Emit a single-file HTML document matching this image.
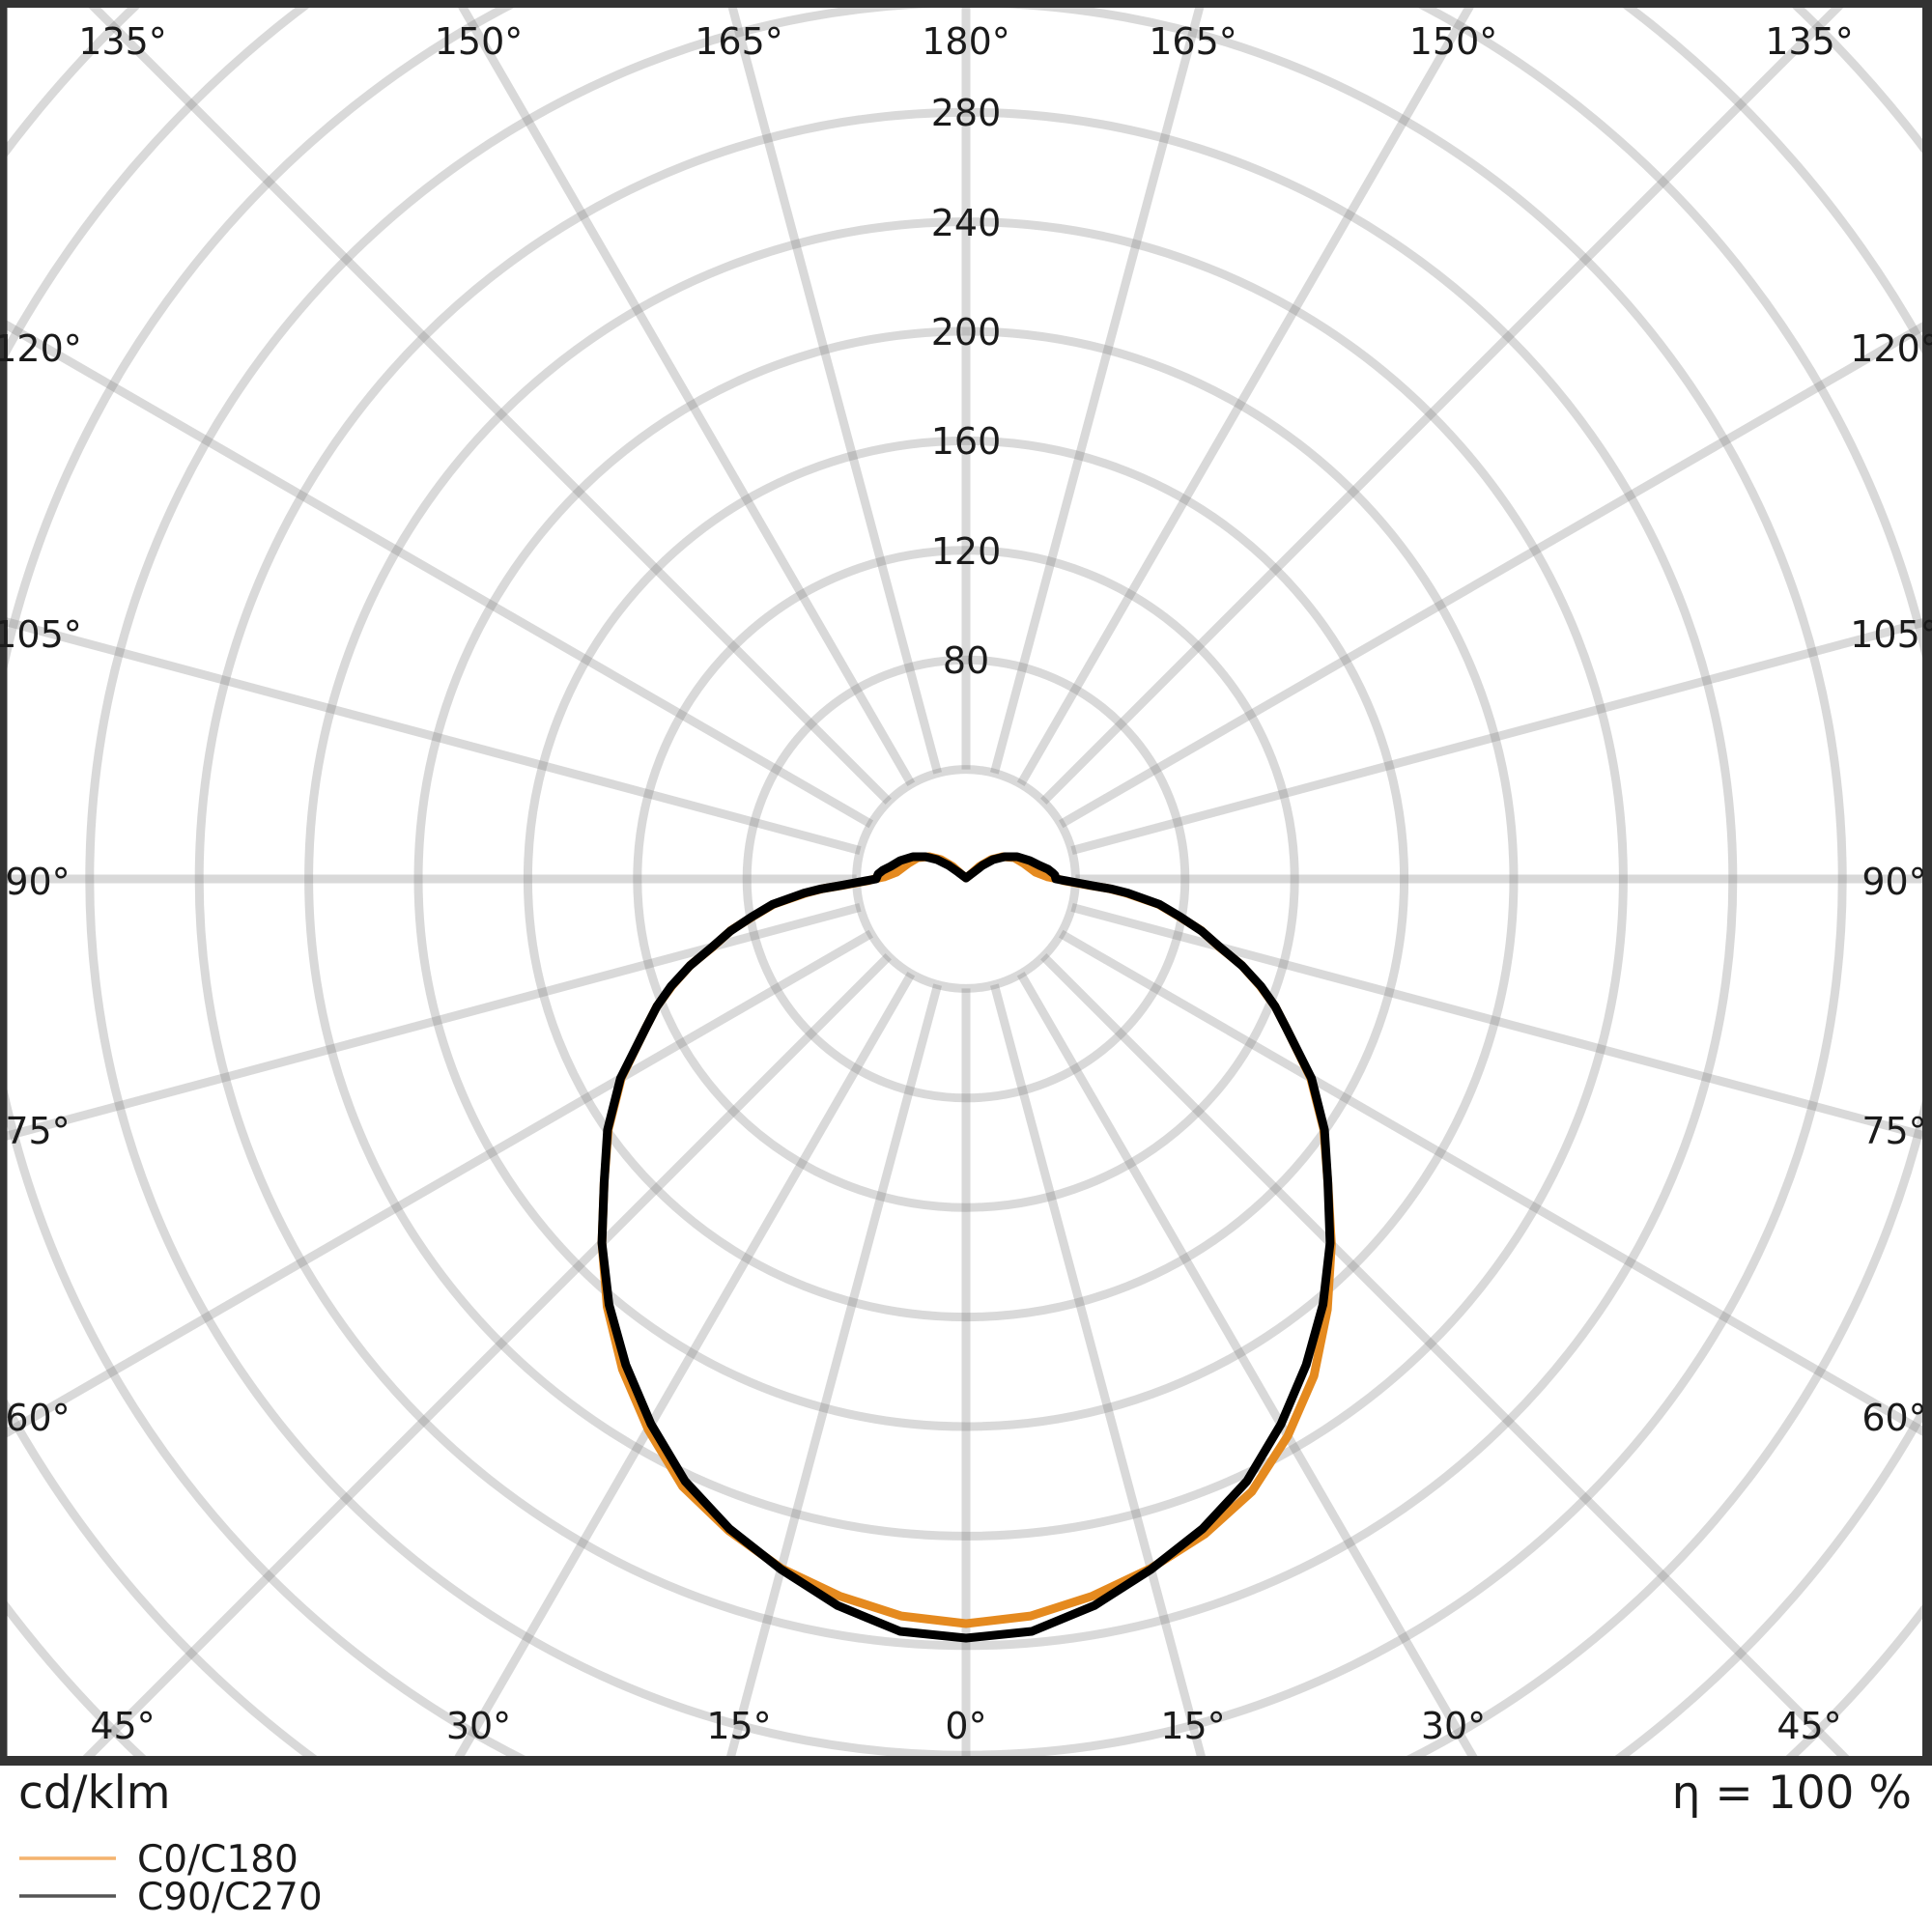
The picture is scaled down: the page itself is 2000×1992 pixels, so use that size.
<!DOCTYPE html>
<html>
<head>
<meta charset="utf-8">
<style>
  html, body { margin: 0; padding: 0; background: #ffffff; width: 2000px; height: 1992px; overflow: hidden; }
  svg { display: block; overflow: hidden; }
  text { font-family: "DejaVu Sans", "Liberation Sans", sans-serif; fill: #1a1a1a; }
</style>
</head>
<body>
<svg width="2000" height="1992" viewBox="0 0 2000 1992" xmlns="http://www.w3.org/2000/svg">
  <rect x="0" y="0" width="2000" height="1992" fill="#ffffff"/>
  <defs>
    <clipPath id="frame">
      <rect x="2.5" y="3" width="1992.5" height="1820"/>
    </clipPath>
  </defs>

  <g clip-path="url(#frame)">
    <!-- rings -->
    <g fill="none" stroke="#808080" stroke-opacity="0.3" stroke-width="9">
      <circle cx="1000" cy="910" r="113.4"/>
      <circle cx="1000" cy="910" r="226.8"/>
      <circle cx="1000" cy="910" r="340.2"/>
      <circle cx="1000" cy="910" r="453.6"/>
      <circle cx="1000" cy="910" r="567"/>
      <circle cx="1000" cy="910" r="680.4"/>
      <circle cx="1000" cy="910" r="793.8"/>
      <circle cx="1000" cy="910" r="907.2"/>
      <path d="M1462.1,0 A1020.6,1020.6 0 0 1 2000,706 M2000,1114 A1020.6,1020.6 0 0 1 1456.1,1823 M543.9,1823 A1020.6,1020.6 0 0 1 0,1114 M0,706 A1020.6,1020.6 0 0 1 537.9,0"/>
      <path d="M2000,1444.75 A1134,1134 0 0 1 1672.6,1823 M327.4,1823 A1134,1134 0 0 1 0,1444.75 M0,375.25 A1134,1134 0 0 1 323.4,0 M1676.6,0 A1134,1134 0 0 1 2000,375.25"/>
      <path d="M2000,1655.6 A1247.4,1247.4 0 0 1 1850,1823 M150,1823 A1247.4,1247.4 0 0 1 0,1655.6 M0,164.4 A1247.4,1247.4 0 0 1 146.8,0 M1853.2,0 A1247.4,1247.4 0 0 1 2000,164.4"/>
    </g>
    <!-- radial lines -->
    <g transform="translate(1000 910)" stroke="#808080" stroke-opacity="0.3" stroke-width="9">
      <line x1="0" y1="113.4" x2="0" y2="915" transform="rotate(0)"/>
      <line x1="0" y1="113.4" x2="0" y2="950" transform="rotate(15)"/>
      <line x1="0" y1="113.4" x2="0" y2="1058" transform="rotate(30)"/>
      <line x1="0" y1="113.4" x2="0" y2="1291" transform="rotate(45)"/>
      <line x1="0" y1="113.4" x2="0" y2="1152" transform="rotate(60)"/>
      <line x1="0" y1="113.4" x2="0" y2="1032" transform="rotate(75)"/>
      <line x1="0" y1="113.4" x2="0" y2="1000" transform="rotate(90)"/>
      <line x1="0" y1="113.4" x2="0" y2="1032" transform="rotate(105)"/>
      <line x1="0" y1="113.4" x2="0" y2="1152" transform="rotate(120)"/>
      <line x1="0" y1="113.4" x2="0" y2="1287" transform="rotate(135)"/>
      <line x1="0" y1="113.4" x2="0" y2="1050" transform="rotate(150)"/>
      <line x1="0" y1="113.4" x2="0" y2="942" transform="rotate(165)"/>
      <line x1="0" y1="113.4" x2="0" y2="908" transform="rotate(180)"/>
      <line x1="0" y1="113.4" x2="0" y2="942" transform="rotate(195)"/>
      <line x1="0" y1="113.4" x2="0" y2="1050" transform="rotate(210)"/>
      <line x1="0" y1="113.4" x2="0" y2="1287" transform="rotate(225)"/>
      <line x1="0" y1="113.4" x2="0" y2="1152" transform="rotate(240)"/>
      <line x1="0" y1="113.4" x2="0" y2="1032" transform="rotate(255)"/>
      <line x1="0" y1="113.4" x2="0" y2="1000" transform="rotate(270)"/>
      <line x1="0" y1="113.4" x2="0" y2="1032" transform="rotate(285)"/>
      <line x1="0" y1="113.4" x2="0" y2="1152" transform="rotate(300)"/>
      <line x1="0" y1="113.4" x2="0" y2="1291" transform="rotate(315)"/>
      <line x1="0" y1="113.4" x2="0" y2="1058" transform="rotate(330)"/>
      <line x1="0" y1="113.4" x2="0" y2="950" transform="rotate(345)"/>
    </g>

    <!-- C0/C180 (orange) -->
    <polygon fill="none" stroke="#e58a1f" stroke-width="9" stroke-linejoin="round"
      points="905,910 899.0,911.8 887.1,913.9 872.2,916.7 852,920 834.6,924.5 800.7,936.2 779.4,948.9 757,963 738.2,980.1 715,999 695.5,1020.8 680,1042 668.3,1064.7 643.2,1116 629.7,1169.3 625.4,1224.3 623.1,1286.9 628.5,1352.8 644.4,1417.9 671,1479.9 706.7,1539.0 754.4,1584.7 808.7,1623.8 869.1,1652.5 933.2,1673.1 1000,1681 1066.8,1673.1 1130.9,1652.5 1191.3,1623.8 1246.9,1588.5 1295.8,1544.4 1333,1486.8 1360.2,1424.4 1374.1,1355.8 1378.3,1288.3 1374.6,1224.3 1370.3,1169.3 1356.8,1116 1331.7,1064.7 1320,1042 1304.5,1020.8 1285,999 1261.8,980.1 1243,963 1220.6,948.9 1199.3,936.2 1165.4,924.5 1148,920 1127.8,916.7 1112.9,913.9 1101.0,911.8 1095,910 1085,908 1072,903 1060,894 1050,888 1038,887 1026,890 1014,897 1005,905 1000,909 995,905 986,897 974,890 962,887 950,888 940,894 928,903 915,908"/>

    <!-- C90/C270 (black) -->
    <polygon fill="none" stroke="#000000" stroke-width="9" stroke-linejoin="round"
      points="907,910 897.0,911.8 885.1,914.0 870.2,916.8 850,920.3 832.6,924.6 799.7,936.4 778.4,949.1 756,964 737.3,980.4 714,1000 694.6,1021.2 680,1042 668.3,1064.7 642.3,1116.5 628.9,1169.8 625.4,1224.3 623.1,1286.9 630.4,1350.5 647.8,1413.0 674,1474.6 709.2,1533.5 755.1,1582.8 808.5,1624.8 867.3,1662.4 931.8,1689.0 1000,1696 1068.2,1689.0 1132.7,1662.4 1191.5,1624.8 1244.9,1582.8 1290.8,1533.5 1326,1474.6 1352.2,1413.0 1369.6,1350.5 1376.9,1286.9 1374.6,1224.3 1371.1,1169.8 1357.7,1116.5 1331.7,1064.7 1320,1042 1305.4,1021.2 1286,1000 1262.7,980.4 1244,964 1221.6,949.1 1200.3,936.4 1167.4,924.6 1150,920.3 1129.8,916.8 1114.9,914.0 1103.0,911.8 1093,910 1092,906 1090,904 1085,900 1076,896 1066,891 1053,887 1040,887 1028,890 1017,896 1008,903 1000,909 992,903 982,896 970,890 958,887 945,887 932,891 922,897 914,901 909,905"/>
  </g>

  <!-- frame -->
  <rect x="2.5" y="3" width="1992.5" height="1820" fill="none" stroke="#333333" stroke-width="10"/>

  <!-- radial value labels -->
  <g font-size="38" text-anchor="middle">
    <text x="1000" y="697">80</text>
    <text x="1000" y="584">120</text>
    <text x="1000" y="470">160</text>
    <text x="1000" y="357">200</text>
    <text x="1000" y="244">240</text>
    <text x="1000" y="130">280</text>
  </g>

  <!-- angle labels -->
  <g font-size="38" text-anchor="middle">
    <text x="127" y="56">135°</text>
    <text x="495.5" y="56">150°</text>
    <text x="765" y="56">165°</text>
    <text x="1000" y="56">180°</text>
    <text x="1235" y="56">165°</text>
    <text x="1504.5" y="56">150°</text>
    <text x="1873" y="56">135°</text>

    <text x="127" y="1800">45°</text>
    <text x="495.5" y="1800">30°</text>
    <text x="765" y="1800">15°</text>
    <text x="1000" y="1800">0°</text>
    <text x="1235" y="1800">15°</text>
    <text x="1504.5" y="1800">30°</text>
    <text x="1873" y="1800">45°</text>

    <text x="39" y="374">120°</text>
    <text x="39" y="670">105°</text>
    <text x="39" y="926">90°</text>
    <text x="39" y="1184">75°</text>
    <text x="39" y="1481">60°</text>

    <text x="1961" y="374">120°</text>
    <text x="1961" y="670">105°</text>
    <text x="1961" y="926">90°</text>
    <text x="1961" y="1184">75°</text>
    <text x="1961" y="1481">60°</text>
  </g>

  <!-- footer -->
  <text x="19" y="1872" font-size="47">cd/klm</text>
  <text x="1979" y="1872" font-size="47" text-anchor="end">η = 100 %</text>

  <!-- legend -->
  <line x1="20" y1="1924" x2="120" y2="1924" stroke="#f4b36e" stroke-width="3.5"/>
  <text x="142" y="1938" font-size="39">C0/C180</text>
  <line x1="20" y1="1963" x2="120" y2="1963" stroke="#555555" stroke-width="3.5"/>
  <text x="142" y="1977" font-size="39">C90/C270</text>
</svg>
</body>
</html>
